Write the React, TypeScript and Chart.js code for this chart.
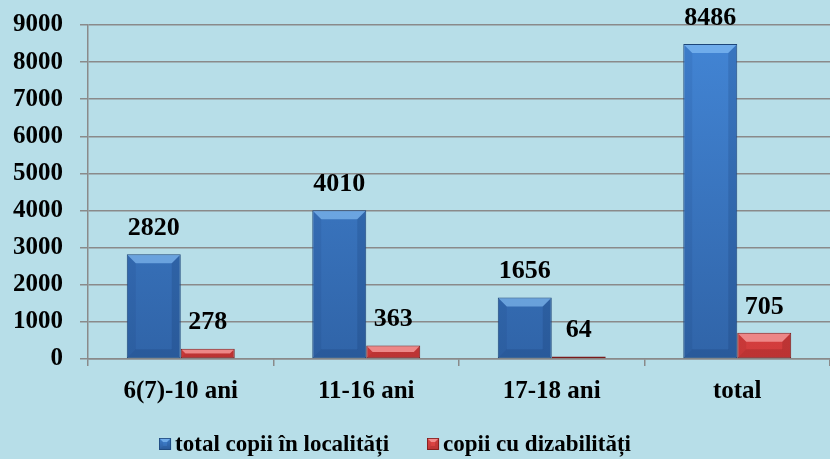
import React, { useEffect, useRef } from 'react';
import { Chart, registerables } from 'chart.js';

Chart.register(...registerables);

const categories = ['6(7)-10 ani', '11-16 ani', '17-18 ani', 'total'];
const totalCopii = [2820, 4010, 1656, 8486];
const copiiDizabilitati = [278, 363, 64, 705];
const seriesNames = ['total copii în localități', 'copii cu dizabilități'];
const yMin = 0;
const yMax = 9000;
const yStep = 1000;

const FONT = '"Liberation Serif", "Times New Roman", serif';
const BG = '#b7dee8';
const GRID = '#8a8a8a';

const seriesColors = [
  { top: '#4386d6', bottom: '#3064a8', flat: '#3b78c6', border: '#1d4679', bevel: 'rgba(150,205,255,0.55)', dark: 'rgba(0,20,60,0.13)' },
  { top: '#e24a4a', bottom: '#d23c3c', flat: '#d94444', border: '#7a1a1a', bevel: 'rgba(255,185,185,0.6)', dark: 'rgba(60,0,0,0.14)' },
];

function drawBevel(ctx: any, x0: number, x1: number, t: number, b: number, bvMax: number, c: any) {
  const h = b - t;
  if (h <= 0) return;
  const bv = Math.min(bvMax, h / 2);
  ctx.fillStyle = c.bevel;
  ctx.beginPath();
  ctx.moveTo(x0, t); ctx.lineTo(x1, t); ctx.lineTo(x1 - bv, t + bv); ctx.lineTo(x0 + bv, t + bv); ctx.closePath(); ctx.fill();
  ctx.fillStyle = c.dark;
  ctx.beginPath();
  ctx.moveTo(x1, t); ctx.lineTo(x1 - bv, t + bv); ctx.lineTo(x1 - bv, b - bv); ctx.lineTo(x1, b); ctx.closePath(); ctx.fill();
  ctx.globalAlpha = 0.5;
  ctx.beginPath();
  ctx.moveTo(x0, t); ctx.lineTo(x0 + bv, t + bv); ctx.lineTo(x0 + bv, b - bv); ctx.lineTo(x0, b); ctx.closePath(); ctx.fill();
  ctx.globalAlpha = 1;
  ctx.beginPath();
  ctx.moveTo(x0, b); ctx.lineTo(x1, b); ctx.lineTo(x1 - bv, b - bv); ctx.lineTo(x0 + bv, b - bv); ctx.closePath(); ctx.fill();
}

const barStylePlugin = {
  id: 'barStyle',
  afterDatasetsDraw(chart: any) {
    const ctx = chart.ctx;
    chart.data.datasets.forEach((ds: any, i: number) => {
      const meta = chart.getDatasetMeta(i);
      meta.data.forEach((bar: any) => {
        const { x, y, base, width } = bar.getProps(['x', 'y', 'base', 'width'], true);
        ctx.save();
        drawBevel(ctx, x - width / 2 + 1, x + width / 2 - 1, y + 1, base - 1, 8, seriesColors[i]);
        ctx.restore();
      });
    });
    ctx.save();
    ctx.font = `bold 26px ${FONT}`;
    ctx.fillStyle = '#000';
    ctx.textAlign = 'center';
    ctx.textBaseline = 'middle';
    chart.data.datasets.forEach((ds: any, i: number) => {
      const meta = chart.getDatasetMeta(i);
      meta.data.forEach((bar: any, j: number) => {
        const { x, y } = bar.getProps(['x', 'y'], true);
        ctx.fillText(String(ds.data[j]), x, y - 26);
      });
    });
    ctx.restore();
  },
};

const customLegendPlugin = {
  id: 'customLegend',
  afterDraw(chart: any) {
    const ctx = chart.ctx;
    ctx.save();
    ctx.font = `bold 23px ${FONT}`;
    ctx.textBaseline = 'middle';
    ctx.textAlign = 'left';
    const box = 12;
    const gap = 4;
    const itemGap = 38;
    const names = chart.data.datasets.map((d: any) => d.label);
    const widths = names.map((n: string) => ctx.measureText(n).width);
    const total = widths.reduce((a: number, w: number) => a + box + gap + w, 0) + itemGap * (names.length - 1);
    const centerX = 395;
    const cy = 444;
    let x = centerX - total / 2;
    names.forEach((n: string, i: number) => {
      const c = seriesColors[i];
      const g = ctx.createLinearGradient(0, cy - box / 2, 0, cy + box / 2);
      g.addColorStop(0, c.top);
      g.addColorStop(1, c.bottom);
      ctx.fillStyle = g;
      ctx.fillRect(x, cy - box / 2, box, box);
      drawBevel(ctx, x, x + box, cy - box / 2, cy + box / 2, 4, c);
      ctx.strokeStyle = c.border;
      ctx.lineWidth = 0.8;
      ctx.strokeRect(x + 0.5, cy - box / 2 + 0.5, box - 1, box - 1);
      ctx.fillStyle = '#000';
      ctx.fillText(n, x + box + gap, cy + 1);
      x += box + gap + widths[i] + itemGap;
    });
    ctx.restore();
  },
};

function vGradient(chart: any, top: string, bottom: string, fallback: string) {
  const { ctx, chartArea } = chart;
  if (!chartArea) return fallback;
  const g = ctx.createLinearGradient(0, chartArea.top, 0, chartArea.bottom);
  g.addColorStop(0, top);
  g.addColorStop(1, bottom);
  return g;
}

export default function App() {
  const ref = useRef<HTMLCanvasElement | null>(null);

  useEffect(() => {
    document.body.style.margin = '0';
    document.body.style.background = BG;
    const canvas = ref.current;
    if (!canvas) return;
    const chart = new Chart(canvas, {
      type: 'bar',
      data: {
        labels: categories,
        datasets: [
          {
            label: seriesNames[0],
            data: totalCopii,
            backgroundColor: (c: any) => vGradient(c.chart, seriesColors[0].top, seriesColors[0].bottom, seriesColors[0].flat),
            borderColor: seriesColors[0].border,
            borderWidth: 1,
            borderSkipped: false,
            categoryPercentage: 0.582,
            barPercentage: 1,
          },
          {
            label: seriesNames[1],
            data: copiiDizabilitati,
            backgroundColor: (c: any) => vGradient(c.chart, seriesColors[1].top, seriesColors[1].bottom, seriesColors[1].flat),
            borderColor: seriesColors[1].border,
            borderWidth: 1,
            borderSkipped: false,
            categoryPercentage: 0.582,
            barPercentage: 1,
          },
        ],
      },
      options: {
        responsive: false,
        animation: false,
        layout: { padding: { left: 0, right: 0, top: 25, bottom: 39 } },
        plugins: {
          tooltip: { enabled: false },
          legend: { display: false },
        },
        scales: {
          x: {
            grid: {
              display: true,
              drawOnChartArea: false,
              drawTicks: true,
              tickLength: 7,
              color: GRID,
              lineWidth: 1.5,
              offset: true,
            },
            border: { display: true, color: GRID, width: 1.5 },
            ticks: {
              font: { family: FONT, size: 25, weight: 'bold' },
              color: '#000',
              padding: 11,
              maxRotation: 0,
            },
            afterFit: (s: any) => { s.height = 61; s.paddingLeft = 0; s.paddingRight = 0; },
          },
          y: {
            min: yMin,
            max: yMax,
            grid: {
              color: GRID,
              lineWidth: 1.5,
              drawTicks: true,
              tickLength: 8,
            },
            border: { display: true, color: GRID, width: 1.5 },
            ticks: {
              stepSize: yStep,
              font: { family: FONT, size: 25, weight: 'bold' },
              color: '#000',
              padding: 17,
              callback: (v: any) => String(v),
            },
            afterFit: (s: any) => { s.width = 88; s.paddingTop = 0; s.paddingBottom = 0; },
          },
        },
      },
      plugins: [barStylePlugin, customLegendPlugin],
    } as any);
    return () => chart.destroy();
  }, []);

  return (
    <div style={{ position: 'fixed', left: 0, top: 0, width: 830, height: 459, background: BG }}>
      <canvas ref={ref} width={830} height={459} style={{ width: 830, height: 459, display: 'block' }} />
    </div>
  );
}
